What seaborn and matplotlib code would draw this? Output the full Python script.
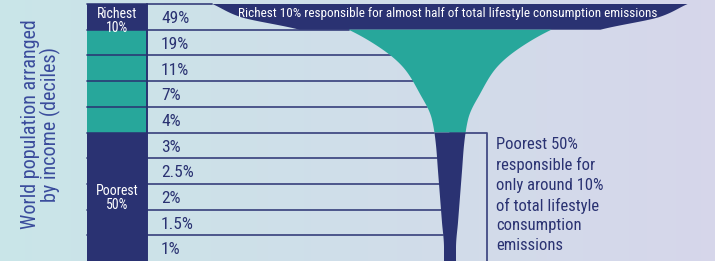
import numpy as np
import matplotlib
matplotlib.use("Agg")
import matplotlib.pyplot as plt
from matplotlib import font_manager
import seaborn as sns

# ---- data ----
shares = [49, 19, 11, 7, 4, 3, 2.5, 2, 1.5, 1]
share_labels = ["49%", "19%", "11%", "7%", "4%", "3%", "2.5%", "2%", "1.5%", "1%"]
groups = ["Richest 10%", "Middle 40%", "Middle 40%", "Middle 40%", "Middle 40%",
          "Poorest 50%", "Poorest 50%", "Poorest 50%", "Poorest 50%", "Poorest 50%"]
group_labels = {"Richest 10%": "Richest\n10%", "Poorest 50%": "Poorest\n50%"}
top_note = "Richest 10% responsible for almost half of total lifestyle consumption emissions"
side_note = ("Poorest 50%\nresponsible for\nonly around 10%\nof total lifestyle\n"
             "consumption\nemissions")
ylabel = "World population arranged\nby income (deciles)"

NAVY = "#2a3272"
TEAL = "#27a79b"
group_colors = {"Richest 10%": NAVY, "Middle 40%": TEAL, "Poorest 50%": NAVY}

sns.set_theme(style="white")
names = {f.name for f in font_manager.fontManager.ttflist}
stretch = "normal"
for cand in ["Roboto Condensed", "Liberation Sans Narrow", "Open Sans Condensed", "Noto Sans Condensed"]:
    if cand in names:
        FONT = cand
        break
else:
    FONT = "DejaVu Sans"
    stretch = "condensed"
plt.rcParams["font.family"] = [FONT, "DejaVu Sans"]

W, H = 715, 261
fig = plt.figure(figsize=(W / 100, H / 100), dpi=100)

# background gradient
bg = fig.add_axes([0, 0, 1, 1], zorder=-10)
c_left = np.array([0.79, 0.90, 0.91])
c_right = np.array([0.84, 0.84, 0.92])
t = np.linspace(0, 1, 200)[None, :, None]
grad = c_left * (1 - t) + c_right * t
grad = np.repeat(grad, 2, axis=0)
bg.imshow(grad, aspect="auto", extent=[0, 1, 0, 1])
bg.axis("off")

ax = fig.add_axes([0, 0, 1, 1])
ax.patch.set_alpha(0)
row_px = (H - 4) / 10.0
ax.set_xlim(0, W)
ax.set_ylim(9.5, -0.5 - 4 / row_px)
ax.axis("off")

n = len(shares)
rows = np.arange(n)

# left colour column
col_left, col_w = 87, 60
ax.barh(rows, [col_w] * n, left=col_left, height=1.0,
        color=[group_colors[g] for g in groups], edgecolor="none", zorder=2)

# glass profile (half-width proportional to share)
cx = 450
k, c0 = 4.0, 2.0
hw_nodes = np.array([k * s + c0 for s in shares], dtype=float)


def pchip_log(xn, hn, ys):
    ys = np.atleast_1d(np.asarray(ys, dtype=float))
    x = np.asarray(xn, float)
    y = np.log(np.asarray(hn, float))
    h = np.diff(x)
    d = np.diff(y) / h
    m = np.zeros(len(y))
    m[0], m[-1] = d[0], d[-1]
    for i in range(1, len(y) - 1):
        if d[i - 1] * d[i] > 0:
            w1 = 2 * h[i] + h[i - 1]
            w2 = h[i] + 2 * h[i - 1]
            m[i] = (w1 + w2) / (w1 / d[i - 1] + w2 / d[i])
    idx = np.clip(np.searchsorted(x, ys, side="right") - 1, 0, len(x) - 2)
    tt = (ys - x[idx]) / h[idx]
    h00 = 2 * tt**3 - 3 * tt**2 + 1
    h10 = tt**3 - 2 * tt**2 + tt
    h01 = -2 * tt**3 + 3 * tt**2
    h11 = tt**3 - tt**2
    val = h00 * y[idx] + h10 * h[idx] * m[idx] + h01 * y[idx + 1] + h11 * h[idx] * m[idx + 1]
    return np.exp(val)


# bowl (richest decile): flared rim, lip at the bottom
bowl_y = [-0.5, 0.0, 0.5]
bowl_h = [hw_nodes[0] * 1.2, hw_nodes[0] * 1.06, hw_nodes[0] * 0.76]
# body + stem (deciles 2..10)
stem_y = np.concatenate([[0.5], rows[1:], [9.5]]).astype(float)
stem_h = np.concatenate([[hw_nodes[1] * 1.3], hw_nodes[1:], [hw_nodes[-1]]])


def halfwidth(y):
    y = np.atleast_1d(np.asarray(y, float))
    out = pchip_log(stem_y, stem_h, y)
    top = y < 0.5
    if top.any():
        out[top] = pchip_log(bowl_y, bowl_h, y[top])
    return out


segments = [(-0.5, 0.5, NAVY, bowl_y, bowl_h), (0.5, 4.5, TEAL, stem_y, stem_h),
            (4.5, 9.5, NAVY, stem_y, stem_h)]
for y0, y1, fc, yn, hn in segments:
    yy = np.linspace(y0, y1, 300)
    hw = pchip_log(yn, hn, yy)
    xs = np.concatenate([cx - hw, (cx + hw)[::-1]])
    ys = np.concatenate([yy, yy[::-1]])
    ax.fill(xs, ys, facecolor=fc, edgecolor="none", zorder=4)

# row lines
for b in np.arange(-0.5, 9.0, 1.0):
    xe = cx - halfwidth(b)[0]
    ax.plot([col_left, xe], [b, b], color=NAVY, lw=1.3, alpha=0.85, zorder=3)
ax.plot([col_left + col_w] * 2, [-0.5, 9.5], color=NAVY, lw=1.4, zorder=3)

# poorest box
box_x = 487
ax.plot([cx, box_x, box_x], [4.5, 4.5, 9.5], color=NAVY, lw=1.3, alpha=0.85, zorder=3)

# labels
for r, lab in zip(rows, share_labels):
    ax.text(161, r + 0.07, lab, ha="left", va="center", fontsize=12.5,
            color=NAVY, fontstretch=stretch, zorder=5)

ax.text(col_left + col_w / 2, 0.16, group_labels["Richest 10%"], ha="center", va="center",
        fontsize=10, color="white", linespacing=0.95, fontstretch=stretch, zorder=5)
ax.text(col_left + col_w / 2, 7.05, group_labels["Poorest 50%"], ha="center", va="center",
        fontsize=10, color="white", linespacing=0.95, fontstretch=stretch, zorder=5)

ax.text(448, -0.13, top_note, ha="center", va="center", fontsize=9.5, color="white",
        fontstretch=stretch, zorder=6)

ax.text(496, 4.68, side_note, ha="left", va="top", fontsize=12, color=NAVY,
        linespacing=1.38, fontstretch=stretch, zorder=5)

fig.text(41 / W, 1 - 124 / H, ylabel, rotation=90, ha="center", va="center",
         multialignment="center", fontsize=14.5, color="#3a4c9c", linespacing=1.05,
         fontstretch=stretch)

fig.savefig("out.png", dpi=100)
